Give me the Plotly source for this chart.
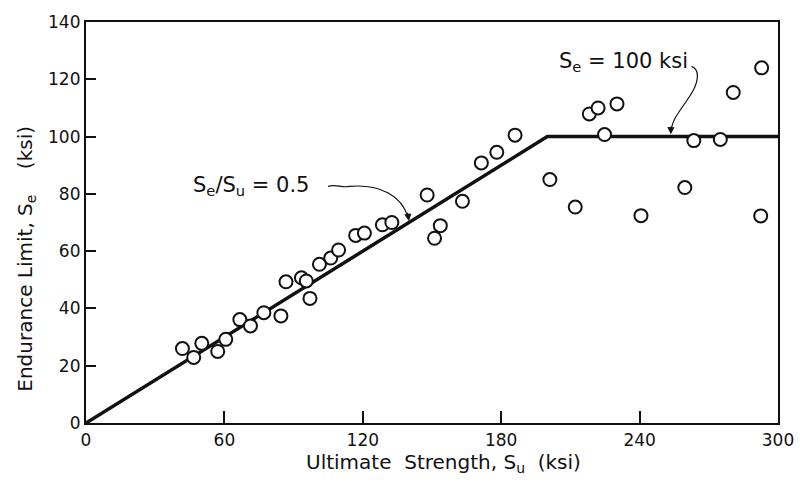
import plotly.graph_objects as go

# Measured specimens: ultimate strength vs. endurance limit (ksi)
ultimate_strength = [41.8, 46.7, 50.2, 57.1, 60.6, 66.7, 71.3, 77.1, 84.5, 86.7,
                     93.4, 95.5, 97.1, 101.2, 106.1, 109.5, 116.9, 120.7, 128.5, 132.6,
                     147.9, 151.1, 153.6, 163.2, 171.4, 178.1, 186.0, 201.1, 212.1, 218.2,
                     222.0, 224.8, 230.2, 240.6, 259.6, 263.5, 275.0, 280.6, 292.9, 292.5]
endurance_limit = [26.0, 22.9, 27.8, 25.0, 29.2, 36.1, 33.9, 38.5, 37.4, 49.3,
                   50.7, 49.6, 43.5, 55.4, 57.6, 60.4, 65.5, 66.3, 69.2, 70.0,
                   79.6, 64.5, 68.9, 77.4, 90.8, 94.5, 100.5, 85.0, 75.4, 107.9,
                   110.0, 100.7, 111.4, 72.4, 82.2, 98.6, 99.0, 115.4, 124.0, 72.3]

# Design rule: Se = 0.5 Su up to a cap of 100 ksi
ratio = 0.5
se_cap = 100.0
su_max = 300.0
rule_su = [0.0, se_cap / ratio, su_max]
rule_se = [0.0, se_cap, se_cap]

x_ticks = [0, 60, 120, 180, 240, 300]
y_ticks = [0, 20, 40, 60, 80, 100, 120, 140]

FONT = "DejaVu Sans"
INK = "#111111"
SP = "\u00a0"

fig = go.Figure()
fig.add_trace(go.Scatter(x=rule_su, y=rule_se, mode="lines",
                         line=dict(color=INK, width=3.5), hoverinfo="skip"))
fig.add_trace(go.Scatter(x=ultimate_strength, y=endurance_limit, mode="markers",
                         marker=dict(symbol="circle", size=13, color="white",
                                     line=dict(color=INK, width=2))))

# Curved leader for the slope label
fig.add_shape(type="path", xref="x", yref="y",
              path="M 105,82.6 C 108,83.6 111,82 114,82.6 C 128,83.6 137,79 139.5,72",
              line=dict(color=INK, width=1.2))
fig.add_annotation(x=140, y=70.5, ax=139.3, ay=74, xref="x", yref="y",
                   axref="x", ayref="y", text="", showarrow=True,
                   arrowhead=2, arrowsize=1.2, arrowwidth=1.2, arrowcolor=INK)
fig.add_annotation(x=45.5, y=82.8, xref="x", yref="y", xanchor="left", yanchor="middle",
                   text="S<sub>e</sub>/S<sub>u</sub>" + SP + "=" + SP + "0.5", showarrow=False,
                   font=dict(family=FONT, size=21, color=INK))

# Curved leader for the cap label
fig.add_shape(type="path", xref="x", yref="y",
              path="M 262.5,124.5 C 266,123.5 265.5,120 263.5,116.5 C 260,111 254,107 253.6,101.6",
              line=dict(color=INK, width=1.2))
fig.add_annotation(x=253.5, y=100.8, ax=253.6, ay=104, xref="x", yref="y",
                   axref="x", ayref="y", text="", showarrow=True,
                   arrowhead=2, arrowsize=1.2, arrowwidth=1.2, arrowcolor=INK)
fig.add_annotation(x=204.0, y=126.0, xref="x", yref="y", xanchor="left", yanchor="middle",
                   text="S<sub>e</sub>" + SP + "=" + SP + "100" + SP + "ksi", showarrow=False,
                   font=dict(family=FONT, size=21, color=INK))

# Axis titles
fig.add_annotation(x=0.516, y=-0.1, xref="paper", yref="paper", xanchor="center",
                   yanchor="middle", showarrow=False,
                   text="Ultimate" + SP * 2 + "Strength, S<sub>u</sub>" + SP * 2 + "(ksi)",
                   font=dict(family=FONT, size=20, color=INK))
fig.add_annotation(x=-0.088, y=0.41, xref="paper", yref="paper", xanchor="center",
                   yanchor="middle", showarrow=False, textangle=-90,
                   text="Endurance Limit, S<sub>e</sub>" + SP * 4 + "(ksi)",
                   font=dict(family=FONT, size=20, color=INK))

axis_common = dict(showline=True, linecolor=INK, linewidth=2.2, mirror=True,
                   showgrid=False, zeroline=False, ticks="inside", tickcolor=INK,
                   tickwidth=1.5, tickfont=dict(family=FONT, size=17, color=INK))
fig.update_xaxes(range=[0, su_max], tickvals=x_ticks, ticklen=12, **axis_common)
fig.update_yaxes(range=[0, 140], tickvals=y_ticks, ticklen=10, **axis_common)

fig.update_layout(width=806, height=481, showlegend=False,
                  plot_bgcolor="white", paper_bgcolor="white",
                  margin=dict(l=86, r=18, t=14, b=58))

fig.write_html("out.html")
